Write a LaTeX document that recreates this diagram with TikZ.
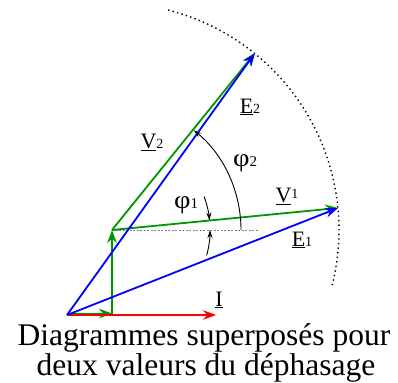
\documentclass[tikz,border=0pt]{standalone}
\usepackage{fontspec}
\setmainfont{Liberation Serif}
\usetikzlibrary{arrows.meta}
\newcommand{\vlab}[2]{\underline{#1}{\fontsize{14}{14}\selectfont #2}}
\newcommand{\vlabup}[2]{\underline{#1}\raisebox{4pt}{\fontsize{14}{14}\selectfont #2}}
\newcommand{\phlab}[1]{\scalebox{1.3}[1.15]{φ}{\fontsize{15}{15}\selectfont #1}}
\begin{document}
\begin{tikzpicture}[x=1pt,y=-1pt,
  vec/.style={line width=1.8pt,-{Stealth[length=13pt,width=9.5pt]}},
  gvec/.style={vec,draw={rgb,255:red,0;green,150;blue,0},fill={rgb,255:red,0;green,150;blue,0}},
  bvec/.style={vec,draw=blue,fill=blue},
  rvec/.style={vec,draw=red,fill=red},
  lab/.style={inner sep=0pt,font=\fontsize{22}{22}\selectfont},
  captext/.style={inner sep=0pt,anchor=base,font=\fontsize{31.5}{31.5}\selectfont},
  anglearc/.style={line width=0.9pt,-{Stealth[length=8pt,width=5pt]}},
  dotarc/.style={line width=1.4pt,dash pattern=on 1.4pt off 3.2pt}]
\useasboundingbox (0,0) rectangle (398,382);
\coordinate (O) at (67,315);
\coordinate (Og) at (67,313.5);
\coordinate (A) at (112,313.5);
\coordinate (A2) at (112,315);
\coordinate (B) at (112,230);
\coordinate (T1) at (338,208);
\coordinate (T2) at (255,53);
\coordinate (Itip) at (216,315);
\coordinate (H) at (258,230);
% dotted arc
\draw[dotarc] (B) ++(-75.7:227) arc[start angle=-75.7, end angle=14.5, radius=227];
% dashed horizontal
\draw[gray, line width=0.5pt, dash pattern=on 2pt off 1.5pt] (B) -- (H);
% green vectors
\draw[gvec] (A2) -- (B);
\draw[gvec] (B) -- (T2);
\draw[gvec] (B) -- (T1);
% red
\draw[rvec] (O) -- (Itip);
\draw[gvec] (Og) -- (A);
\draw[red, line width=1.2pt] (O) -- (A2);
% blue
\draw[bvec] (O) -- (T2);
\draw[bvec] (O) -- (T1);
% angle phi2
\draw[anglearc] (B) ++(0:129) arc[start angle=0, end angle=-50.7, radius=129];
% angle phi1 arrows
\draw[anglearc] (B) ++(-20:98) arc[start angle=-20, end angle=-5.56, radius=98];
\draw[anglearc] (B) ++(15:98) arc[start angle=15, end angle=0, radius=98];
% labels
\node[lab] (lV2) at (152,142) {\vlab{V}{2}};
\node[lab] (lE2) at (250,107) {\vlab{E}{2}};
\node[lab] (lp2) at (245,163) {\phlab{2}};
\node[lab] (lp1) at (186,205) {\phlab{1}};
\node[lab] (lV1) at (287,196) {\vlabup{V}{1}};
\node[lab] (lE1) at (302,240) {\vlab{E}{1}};
\node[lab] (lI) at (219,300) {\underline{I}};
\node[captext] (cap1) at (204,345) {Diagrammes superposés pour};
\node[captext] (cap2) at (206,375) {deux valeurs du déphasage};
\end{tikzpicture}
\end{document}
